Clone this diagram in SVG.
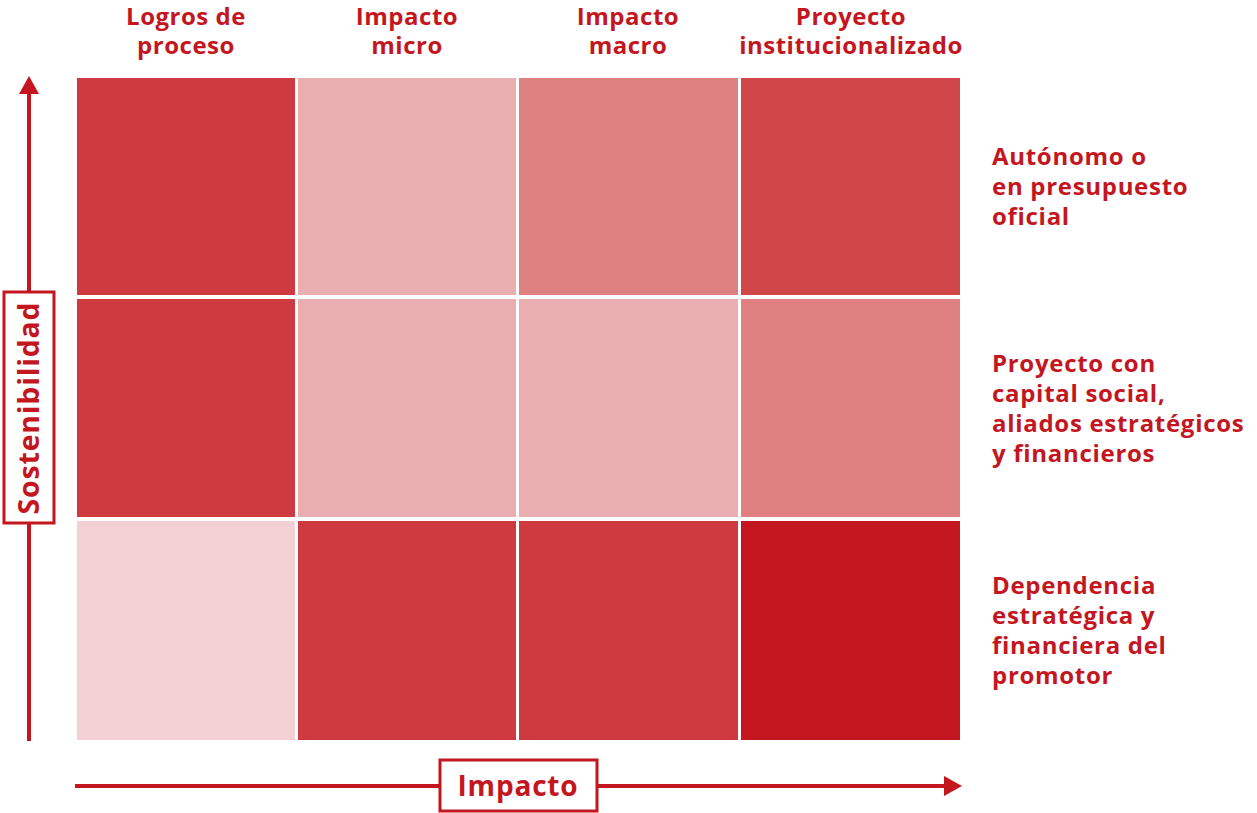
<svg xmlns="http://www.w3.org/2000/svg" width="1257" height="813" viewBox="0 0 1257 813">
<style>
text{font-family:"Open Sans","Liberation Sans",sans-serif;font-weight:700;fill:#c4161e;}
.h{font-size:24px;text-anchor:middle;letter-spacing:0.5px;}
.r{font-size:24px;letter-spacing:0.7px;}
.ax{stroke:#c4161e;stroke-width:4;fill:none;}
.box{fill:#fff;stroke:#c4161e;stroke-width:3;}
.c1{fill:#ce3a40;}.c2{fill:#e9aeaf;}.c3{fill:#df8081;}.c4{fill:#d04649;}.c5{fill:#f2d0d3;}.c6{fill:#c4161e;}
</style>
<defs>
<marker id="ah" markerWidth="5" markerHeight="5" refX="0" refY="2.5" orient="auto" markerUnits="strokeWidth">
<path d="M0,0 L4.5,2.5 L0,5 Z" fill="#c4161e"/>
</marker>
</defs>
<g id="cells">
<rect class="c1" x="77" y="78" width="218" height="217"/>
<rect class="c2" x="298" y="78" width="218" height="217"/>
<rect class="c3" x="519" y="78" width="219" height="217"/>
<rect class="c4" x="741" y="78" width="219" height="217"/>
<rect class="c1" x="77" y="299" width="218" height="218"/>
<rect class="c2" x="298" y="299" width="218" height="218"/>
<rect class="c2" x="519" y="299" width="219" height="218"/>
<rect class="c3" x="741" y="299" width="219" height="218"/>
<rect class="c5" x="77" y="521" width="218" height="219"/>
<rect class="c1" x="298" y="521" width="218" height="219"/>
<rect class="c1" x="519" y="521" width="219" height="219"/>
<rect class="c6" x="741" y="521" width="219" height="219"/>
</g>
<g id="connectors">
<line class="ax" x1="29" y1="741" x2="29" y2="94" marker-end="url(#ah)"/>
<line class="ax" x1="75" y1="786" x2="944" y2="786" marker-end="url(#ah)"/>
</g>
<g id="headers">
<text class="h" x="186" y="25">Logros de</text><text class="h" x="186" y="54">proceso</text>
<text class="h" x="407" y="25">Impacto</text><text class="h" x="407" y="54">micro</text>
<text class="h" x="628" y="25">Impacto</text><text class="h" x="628" y="54">macro</text>
<text class="h" x="851" y="25">Proyecto</text><text class="h" x="851" y="54">institucionalizado</text>
</g>
<g id="row-labels">
<text class="r" x="992" y="165">Autónomo o</text>
<text class="r" x="992" y="195">en presupuesto</text>
<text class="r" x="992" y="225">oficial</text>
<text class="r" x="992" y="372">Proyecto con</text>
<text class="r" x="992" y="402">capital social,</text>
<text class="r" x="992" y="432">aliados estratégicos</text>
<text class="r" x="992" y="462">y financieros</text>
<text class="r" x="992" y="594">Dependencia</text>
<text class="r" x="992" y="624">estratégica y</text>
<text class="r" x="992" y="654">financiera del</text>
<text class="r" x="992" y="684">promotor</text>
</g>
<g id="axis-y-label">
<rect class="box" x="4" y="292" width="50" height="231"/>
<text transform="translate(39,408) rotate(-90)" font-size="28.5" letter-spacing="0.8" text-anchor="middle">Sostenibilidad</text>
</g>
<g id="axis-x-label">
<rect class="box" x="440" y="760" width="157" height="51"/>
<text x="518" y="796" font-size="28" letter-spacing="0.8" text-anchor="middle">Impacto</text>
</g>
</svg>
